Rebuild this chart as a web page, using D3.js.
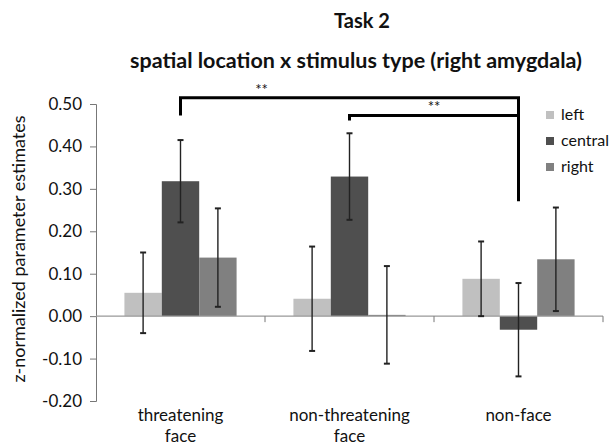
<!DOCTYPE html>
<html><head><meta charset="utf-8">
<script src="https://cdn.jsdelivr.net/npm/d3@7"></script>
<style>
body{margin:0;background:#fff;}
svg text{font-family:Lato, "Open Sans", sans-serif;fill:#111;}
</style></head>
<body>
<svg id="c" width="614" height="446"></svg>
<script>
const categories = [["threatening","face"],["non-threatening","face"],["non-face"]];
const seriesNames = ["left","central","right"];
const values = [
  [0.055, 0.041, 0.088],   // left
  [0.318, 0.329, -0.032],  // central
  [0.138, 0.003, 0.134]    // right
];
const errors = [
  [0.095, 0.123, 0.088],
  [0.097, 0.102, 0.110],
  [0.116, 0.115, 0.122]
];
const yTicks = [0.5,0.4,0.3,0.2,0.1,0,-0.1,-0.2];
const colors = ["#c0c0c0","#4f4f4f","#808080"];
// significance brackets
const brackets = [
  {from:0, to:2, y:0.515, left:0.473, right:0.271, label:"**", labelAt:0.24},
  {from:1, to:2, y:0.473, left:0.461, right:0.473, label:"**", labelAt:0.5}
];

const svg = d3.select("#c");
const m = {l:96, r:603, t:104, b:401};
const x0 = d3.scaleBand().domain(d3.range(categories.length)).range([m.l, m.r]).paddingInner(0).paddingOuter(0);
const x1 = d3.scaleBand().domain(d3.range(seriesNames.length)).range([0, x0.bandwidth()]).paddingOuter(0.76).paddingInner(0);
const y = d3.scaleLinear().domain([-0.2, 0.5]).range([m.b, m.t]);
const loc = d3.formatLocale({decimal:".", thousands:",", grouping:[3], currency:["",""], minus:"-"});
const fmt = loc.format(".2f");

// y axis
const yAxis = svg.append("g").attr("transform",`translate(${m.l},0)`)
  .call(d3.axisLeft(y).tickValues(yTicks).tickFormat(fmt).tickSizeOuter(0).tickSize(6).tickPadding(8));
yAxis.select(".domain").attr("stroke","#777");
yAxis.selectAll(".tick line").attr("stroke","#777");
yAxis.selectAll("text").style("font-size","17px").style("font-family","Lato, sans-serif").attr("fill","#111");

// bars
seriesNames.forEach((s, si) => {
  svg.append("g").selectAll("rect").data(values[si]).join("rect")
    .attr("x", (d,ci) => x0(ci) + x1(si))
    .attr("width", x1.bandwidth())
    .attr("y", d => y(Math.max(0,d)))
    .attr("height", d => Math.abs(y(d) - y(0)))
    .attr("fill", colors[si]);
});

// x axis at zero
const xg = svg.append("g");
xg.append("line").attr("x1", m.l).attr("x2", m.r).attr("y1", y(0)).attr("y2", y(0)).attr("stroke","#999").attr("stroke-width",1.2);
d3.range(1, categories.length+1).forEach(i => {
  const xx = i < categories.length ? x0(i) : m.r;
  xg.append("line").attr("x1", xx).attr("x2", xx).attr("y1", y(0)).attr("y2", y(0)+6).attr("stroke","#777");
});

// error bars
seriesNames.forEach((s, si) => {
  values[si].forEach((v, ci) => {
    const cx = x0(ci) + x1(si) + x1.bandwidth()/2;
    const e = errors[si][ci];
    const g = svg.append("g").attr("stroke","#222").attr("stroke-width",1.4);
    g.append("line").attr("x1",cx).attr("x2",cx).attr("y1",y(v+e)).attr("y2",y(v-e));
    g.append("line").attr("x1",cx-3).attr("x2",cx+3).attr("y1",y(v+e)).attr("y2",y(v+e)).attr("stroke-width",2);
    g.append("line").attr("x1",cx-3).attr("x2",cx+3).attr("y1",y(v-e)).attr("y2",y(v-e)).attr("stroke-width",2);
  });
});

// category labels
categories.forEach((lines, ci) => {
  const t = svg.append("text").attr("text-anchor","middle").style("font-size","17px")
    .attr("x", x0(ci) + x0.bandwidth()/2).attr("y", 421);
  lines.forEach((ln, li) => t.append("tspan").attr("x", x0(ci) + x0.bandwidth()/2).attr("dy", li ? 21 : 0).text(ln));
});

// brackets
brackets.forEach(b => {
  const xa = x0(b.from) + x1(1) + x1.bandwidth()/2;
  const xb = x0(b.to) + x1(1) + x1.bandwidth()/2;
  svg.append("path").attr("fill","none").attr("stroke","#000").attr("stroke-width",3)
    .attr("d", `M${xa},${y(b.left)}V${y(b.y)}H${xb}V${y(b.right)}`);
  svg.append("text").attr("text-anchor","middle").style("font-size","15px")
    .attr("x", xa + (xb-xa)*b.labelAt).attr("y", y(b.y) - 3).text(b.label);
});

// legend
seriesNames.forEach((s, si) => {
  const ly = 111 + si*26;
  svg.append("rect").attr("x",546).attr("y",ly).attr("width",8).attr("height",8).attr("fill",colors[si]);
  svg.append("text").attr("x",561).attr("y",ly+9).style("font-size","16px").text(s);
});

// y title
svg.append("text").attr("transform",`translate(25,249) rotate(-90)`).attr("text-anchor","middle")
  .style("font-size","18px").text("z-normalized parameter estimates");

// titles
svg.append("text").attr("x",362).attr("y",28).attr("text-anchor","middle").style("font-size","20px").style("font-weight","bold").text("Task 2");
svg.append("text").attr("x",356).attr("y",68).attr("text-anchor","middle").style("font-size","21.5px").style("font-weight","bold").text("spatial location x stimulus type (right amygdala)");
</script>
</body></html>
